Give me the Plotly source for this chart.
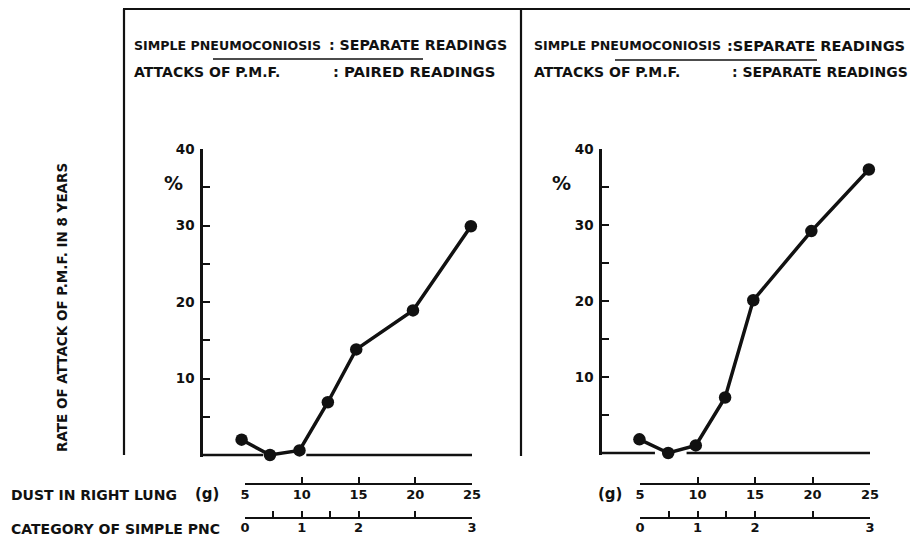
import plotly.graph_objects as go

W, H = 910, 536

# ---------------- data ----------------
dust_left = [4.7, 7.2, 9.8, 12.3, 14.8, 19.8, 24.9]
rate_left = [2.0, 0.0, 0.6, 6.9, 13.8, 18.9, 29.9]
dust_right = [4.95, 7.45, 9.85, 12.4, 14.85, 19.9, 24.9]
rate_right = [1.8, 0.0, 1.0, 7.3, 20.1, 29.2, 37.3]

y_tick_vals = [0, 5, 10, 15, 20, 25, 30, 35, 40]
y_tick_text = ["", "", "10", "", "20", "", "30", "", "40"]
dust_tick_vals = [5, 10, 15, 20, 25]
dust_tick_text = ["5", "10", "15", "20", "25"]
cat_tick_vals = [5, 7.5, 10, 12.5, 15, 20, 25]
cat_tick_text = ["0", "", "1", "", "2", "", "3"]

header_left = ["SIMPLE PNEUMOCONIOSIS", ": SEPARATE READINGS", "ATTACKS OF P.M.F.", ": PAIRED READINGS"]
header_right = ["SIMPLE PNEUMOCONIOSIS", ":SEPARATE READINGS", "ATTACKS OF P.M.F.", ": SEPARATE READINGS"]
y_title = "RATE OF ATTACK OF P.M.F. IN 8 YEARS"
dust_label = "DUST IN RIGHT LUNG"
cat_label = "CATEGORY OF SIMPLE PNC"

# ---------------- layout helpers ----------------
FONT = "DejaVu Sans"
BLACK = "#111111"


def px(x):
    return x / W


def py(y):
    return 1 - y / H


def bfont(size):
    return dict(family=FONT, size=size, weight="bold", color=BLACK)


# panel geometry (pixels)
panels = [
    dict(axis_px=203, x5=245, x25=472, y0=455, y40=149, gap=(6.6, 10.4)),
    dict(axis_px=602, x5=640, x25=870, y0=453, y40=149, gap=(6.3, 9.05)),
]
YMIN = -0.3

fig = go.Figure()
layout = dict(
    width=W, height=H,
    margin=dict(l=0, r=0, t=0, b=0, autoexpand=False),
    paper_bgcolor="white", plot_bgcolor="rgba(0,0,0,0)",
    showlegend=False,
    font=dict(family=FONT, color=BLACK),
)
shapes = []
annotations = []

datasets = [(dust_left, rate_left), (dust_right, rate_right)]
for i, (p, (xs, ys)) in enumerate(zip(panels, datasets)):
    s = (p["x25"] - p["x5"]) / 20.0
    xmin = 5 - (p["x5"] - p["axis_px"]) / s
    xmax = 25
    ys_scale = (p["y0"] - p["y40"]) / 40.0
    ybottom_px = p["y0"] - YMIN * ys_scale
    n = 3 * i
    xa, ya = f"x{n+1 if n else ''}", f"y{n+1 if n else ''}"
    xk, yk = f"xaxis{n+1 if n else ''}", f"yaxis{n+1 if n else ''}"
    # main plot
    layout[xk] = dict(domain=[px(p["axis_px"]), px(p["x25"])], range=[xmin, xmax],
                      anchor=ya, showline=False, showgrid=False, zeroline=False,
                      showticklabels=False, ticks="", automargin=False)
    layout[yk] = dict(domain=[py(ybottom_px), py(p["y40"])], range=[YMIN, 40], anchor=xa,
                      showline=True, linecolor=BLACK, linewidth=2.5, showgrid=False,
                      zeroline=False, ticks="inside", ticklen=7, tickwidth=2,
                      tickcolor=BLACK, tickvals=y_tick_vals, ticktext=y_tick_text,
                      tickfont=bfont(13.5), ticklabelstandoff=3, automargin=False)
    fig.add_trace(go.Scatter(x=xs, y=ys, xaxis=xa, yaxis=ya, mode="lines+markers",
                             line=dict(color=BLACK, width=3.5),
                             marker=dict(color=BLACK, size=12.5),
                             cliponaxis=False, hoverinfo="skip"))
    # baseline with gap
    for (a, b) in [(xmin, p["gap"][0]), (p["gap"][1], 25)]:
        shapes.append(dict(type="line", xref=xa, yref=ya, x0=a, x1=b, y0=0, y1=0,
                           line=dict(color=BLACK, width=2.5)))
    # bottom scales
    for j, (ypix, tv, tt, stand) in enumerate([(483, dust_tick_vals, dust_tick_text, -2),
                                                (517, cat_tick_vals, cat_tick_text, -3)]):
        m = n + 2 + j
        xk2, yk2 = f"xaxis{m}", f"yaxis{m}"
        layout[xk2] = dict(domain=[px(p["x5"]), px(p["x25"])], range=[5, 25],
                           anchor=f"y{m}", showline=True, linecolor=BLACK, linewidth=2,
                           showgrid=False, zeroline=False, ticks="inside", ticklen=6,
                           tickwidth=2, tickcolor=BLACK, tickvals=tv, ticktext=tt,
                           tickfont=bfont(13), ticklabelstandoff=stand, automargin=False)
        layout[yk2] = dict(domain=[py(ypix), py(ypix - 4)], visible=False,
                           anchor=f"x{m}", range=[0, 1], automargin=False)
        fig.add_trace(go.Scatter(x=[None], y=[None], xaxis=f"x{m}", yaxis=f"y{m}",
                                 mode="markers", hoverinfo="skip"))
    # percent sign
    annotations.append(dict(text="%", x=px(p["axis_px"] - 41), y=py(183), xref="paper",
                            yref="paper", showarrow=False, font=bfont(19)))

# frame lines
line_style = dict(color=BLACK, width=2.2)
shapes += [
    dict(type="line", xref="paper", yref="paper", x0=px(124), x1=px(124), y0=py(9), y1=py(455), line=line_style),
    dict(type="line", xref="paper", yref="paper", x0=px(521), x1=px(521), y0=py(9), y1=py(456), line=line_style),
    dict(type="line", xref="paper", yref="paper", x0=px(123), x1=px(910), y0=py(9), y1=py(9), line=line_style),
    # underlines of header
    dict(type="line", xref="paper", yref="paper", x0=px(213), x1=px(423), y0=py(59), y1=py(59), line=dict(color=BLACK, width=1.5)),
    dict(type="line", xref="paper", yref="paper", x0=px(615), x1=px(817), y0=py(60), y1=py(60), line=dict(color=BLACK, width=1.5)),
]


def txt(t, x, y, font, anchor="left", angle=0):
    annotations.append(dict(text=t, x=px(x), y=py(y), xref="paper", yref="paper",
                            xanchor=anchor, yanchor="middle", showarrow=False,
                            font=font, textangle=angle))


# headers
txt(header_left[0], 132, 45, bfont(12.6))
txt(header_left[1], 327, 45, bfont(14.2))
txt(header_left[2], 132, 72, bfont(14))
txt(header_left[3], 331, 72, bfont(14.8))
txt(header_right[0], 532, 45, bfont(12.6))
txt(header_right[1], 725, 45, bfont(14.6))
txt(header_right[2], 532, 72, bfont(14))
txt(header_right[3], 730, 72, bfont(14))

# y title
txt(y_title, 62, 308, bfont(13.5), anchor="center", angle=-90)

# bottom labels
txt(dust_label, 9, 495, bfont(14))
txt("(g)", 193, 494, bfont(15))
txt("(g)", 596, 494, bfont(15))
txt(cat_label, 9, 529, bfont(14))

layout["shapes"] = shapes
layout["annotations"] = annotations
fig.update_layout(**layout)
fig.write_html("out.html")
